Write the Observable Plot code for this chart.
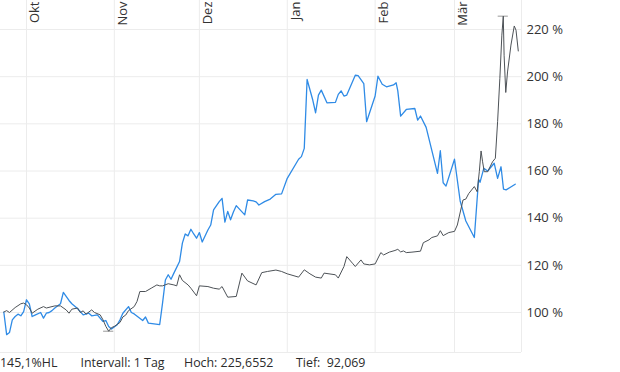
<!DOCTYPE html>
<html>
<head>
<meta charset="utf-8">
<script src="https://cdn.jsdelivr.net/npm/d3@7"></script>
<script src="https://cdn.jsdelivr.net/npm/@observablehq/plot@0.6"></script>
<style>
  html, body { margin: 0; padding: 0; background: #fff; }
  #wrap { width: 620px; position: relative; font-family: "Open Sans", sans-serif; }
  #caption { position: relative; height: 18px; font-size: 12.4px; line-height: 18px; color: #2b2b2b; white-space: pre; }
  #caption span { position: absolute; top: 0; }
</style>
</head>
<body>
<div id="wrap">
  <div id="chart"></div>
  <div id="caption"></div>
</div>
<script>
// Month ticks and labels
const monthTicks = ["2020-10-01", "2020-11-01", "2020-12-01", "2021-01-01", "2021-02-01", "2021-03-01"];
const monthLabels = ["Okt", "Nov", "Dez", "Jan", "Feb", "Mär"];
// Y ticks (percent)
const yTicks = [100, 120, 140, 160, 180, 200, 220];

// Main instrument (dark line)
const blackDates = [
  "2020-09-23","2020-09-24","2020-09-25","2020-09-27","2020-09-29","2020-09-30","2020-10-01","2020-10-02","2020-10-03","2020-10-05",
  "2020-10-07","2020-10-08","2020-10-11","2020-10-13","2020-10-15","2020-10-16","2020-10-17","2020-10-19","2020-10-20","2020-10-21",
  "2020-10-22","2020-10-24","2020-10-25","2020-10-27","2020-10-28","2020-10-29","2020-10-30","2020-10-31","2020-11-01","2020-11-03",
  "2020-11-04","2020-11-05","2020-11-06","2020-11-08","2020-11-09","2020-11-10","2020-11-12","2020-11-14","2020-11-16","2020-11-17",
  "2020-11-18","2020-11-20","2020-11-22","2020-11-23","2020-11-24","2020-11-25","2020-11-27","2020-11-28","2020-11-30","2020-12-01",
  "2020-12-04","2020-12-06","2020-12-08","2020-12-09","2020-12-11","2020-12-14","2020-12-16","2020-12-18","2020-12-21","2020-12-23",
  "2020-12-25","2020-12-28","2020-12-30","2021-01-01","2021-01-05","2021-01-07","2021-01-09","2021-01-11","2021-01-13","2021-01-14",
  "2021-01-18","2021-01-19","2021-01-21","2021-01-22","2021-01-24","2021-01-25","2021-01-27","2021-01-28","2021-01-30","2021-02-01",
  "2021-02-03","2021-02-04","2021-02-06","2021-02-08","2021-02-09","2021-02-10","2021-02-11","2021-02-12","2021-02-14","2021-02-17",
  "2021-02-18","2021-02-20","2021-02-21","2021-02-23","2021-02-24","2021-02-25","2021-02-27","2021-03-01","2021-03-02","2021-03-04",
  "2021-03-05","2021-03-06","2021-03-08","2021-03-09","2021-03-09T18:00Z","2021-03-10T09:00Z","2021-03-10T22:00Z","2021-03-11T12:00Z","2021-03-12T17:00Z","2021-03-14T10:00Z",
  "2021-03-15T10:00Z","2021-03-16T05:00Z","2021-03-17","2021-03-17T17:00Z","2021-03-18T05:00Z","2021-03-18T12:00Z","2021-03-19T02:00Z","2021-03-19T17:00Z","2021-03-20T22:00Z","2021-03-22T02:00Z",
  "2021-03-22T17:00Z","2021-03-23T12:00Z"
];
const blackValues = [
  100.2,100.8,100.0,102.1,103.7,104.0,103.3,101.9,99.7,101.4,
  102.5,101.9,102.8,102.8,101.1,99.7,101.4,101.9,100.0,100.7,
  99.3,101.1,100.0,99.0,96.9,94.1,92.069,93.6,94.1,95.8,
  98.1,98.9,100.8,102.5,104.7,108.9,108.9,110.3,111.7,111.3,
  111.3,112.2,111.7,111.3,116.0,113.6,111.7,110.3,107.1,111.3,
  111.0,110.3,109.9,111.0,106.5,106.8,116.7,113.4,111.7,116.9,
  117.4,118.0,117.4,116.4,115.0,118.1,116.4,115.0,114.6,116.7,
  116.0,114.6,119.5,123.7,120.9,119.5,122.3,120.6,120.2,120.6,
  125.4,124.4,125.6,126.3,126.8,125.7,126.1,125.4,125.6,126.0,
  129.6,130.8,131.8,132.5,134.7,132.6,133.9,134.4,137.1,147.7,
  148.1,150.4,153.4,151.2,159.7,168.5,163.9,159.7,159.7,163.9,
  165.4,180.9,199.3,217.6,225.6552,209.1,193.3,202.0,213.4,221.5,
  219.7,210.9
];

// Comparison (blue line)
const blueDates = [
  "2020-09-23","2020-09-24","2020-09-25","2020-09-26","2020-09-27","2020-09-28","2020-09-29","2020-09-30","2020-10-01","2020-10-02",
  "2020-10-03","2020-10-04","2020-10-06","2020-10-07","2020-10-08","2020-10-09","2020-10-10","2020-10-11","2020-10-13","2020-10-14",
  "2020-10-16","2020-10-17","2020-10-19","2020-10-21","2020-10-23","2020-10-24","2020-10-26","2020-10-28","2020-10-29","2020-10-30",
  "2020-10-31","2020-11-02","2020-11-03","2020-11-04","2020-11-06","2020-11-07","2020-11-08","2020-11-11","2020-11-12","2020-11-13",
  "2020-11-17","2020-11-18","2020-11-19","2020-11-20","2020-11-21","2020-11-22","2020-11-24","2020-11-25","2020-11-26","2020-11-27",
  "2020-11-28","2020-11-29","2020-11-30","2020-12-01","2020-12-02","2020-12-04","2020-12-05","2020-12-06","2020-12-08","2020-12-09",
  "2020-12-10","2020-12-11","2020-12-12","2020-12-13","2020-12-14","2020-12-17","2020-12-18","2020-12-20","2020-12-21","2020-12-22",
  "2020-12-24","2020-12-26","2020-12-28","2020-12-30","2021-01-01","2021-01-05","2021-01-06","2021-01-07","2021-01-08","2021-01-10",
  "2021-01-11","2021-01-12","2021-01-13","2021-01-15","2021-01-18","2021-01-19","2021-01-20","2021-01-21","2021-01-22","2021-01-25",
  "2021-01-26","2021-01-28","2021-01-29","2021-02-01","2021-02-02","2021-02-03T12:00Z","2021-02-05","2021-02-07T12:00Z","2021-02-08T10:00Z","2021-02-09",
  "2021-02-10","2021-02-12","2021-02-15","2021-02-16","2021-02-17","2021-02-19","2021-02-23","2021-02-24","2021-02-25","2021-02-26",
  "2021-03-01","2021-03-03","2021-03-05","2021-03-08","2021-03-09T12:00Z","2021-03-10","2021-03-11T08:00Z","2021-03-12T17:00Z","2021-03-15","2021-03-16T05:00Z",
  "2021-03-17T10:00Z","2021-03-18T07:00Z","2021-03-19T05:00Z","2021-03-22T10:00Z"
];
const blueValues = [
  100.2,90.6,91.5,96.9,98.3,99.3,98.6,100.4,105.4,103.7,
  98.3,98.9,100.0,97.6,99.7,100.0,100.8,101.9,103.7,108.5,
  105.1,103.7,101.7,99.0,99.7,98.6,99.0,96.2,96.6,94.1,
  93.0,94.8,96.9,99.7,102.5,100.0,99.4,96.6,98.1,95.5,
  94.9,104.0,113.8,116.0,114.1,116.7,121.6,129.4,133.3,132.5,
  135.3,133.3,131.5,133.9,129.9,135.0,137.1,143.5,147.0,148.4,
  138.3,142.9,139.3,142.6,145.3,141.4,147.7,147.3,146.9,145.6,
  147.0,148.1,150.1,150.3,156.9,165.0,166.1,169.6,198.8,190.1,
  184.7,192.2,194.3,188.9,189.1,192.5,194.0,191.8,192.2,200.6,
  200.4,197.1,180.9,191.8,200.2,196.8,195.7,196.5,197.4,194.0,
  183.3,186.1,186.5,181.6,183.3,178.5,159.0,168.6,155.0,153.6,
  165.0,147.3,138.8,131.8,156.5,155.2,161.1,160.0,163.3,156.9,
  161.8,152.3,152.0,154.4
];

const black = blackDates.map((d, i) => ({date: new Date(d), value: blackValues[i]}));
const blue = blueDates.map((d, i) => ({date: new Date(d), value: blueValues[i]}));
const months = monthTicks.map((d, i) => ({date: new Date(d), label: monthLabels[i]}));

const xDomain = [new Date("2020-09-21T20:00Z"), new Date("2021-03-24T15:20Z")];
const yDomain = [83.04, 232.3];

const hiPt = black.reduce((a, b) => (b.value > a.value ? b : a));
const loPt = black.reduce((a, b) => (b.value < a.value ? b : a));
const DAY = 86400000;
const markerHalf = 1.8 * DAY;
const markers = [hiPt, loPt].map(p => ({
  value: p.value,
  x1: new Date(+p.date - markerHalf),
  x2: new Date(+p.date + markerHalf)
}));

const grid = "#ececec";

const chart = Plot.plot({
  width: 620,
  height: 354,
  marginTop: 0,
  marginLeft: 0,
  marginRight: 99,
  marginBottom: 2,
  style: {fontFamily: "'Open Sans', sans-serif", fontSize: "13px", color: "#333", background: "#fff", overflow: "visible"},
  x: {type: "utc", domain: xDomain, axis: null},
  y: {domain: yDomain, axis: null},
  marks: [
    Plot.ruleY(yTicks, {stroke: grid}),
    Plot.ruleX(months, {x: "date", stroke: grid}),
    Plot.ruleX([xDomain[1]], {stroke: grid}),
    Plot.ruleY([yDomain[0]], {stroke: grid}),
    Plot.text(months, {
      x: "date", text: "label", frameAnchor: "top", rotate: -90,
      textAnchor: "end", lineAnchor: "bottom", dx: 12.5, dy: 1,
      fill: "#333", fontSize: 13
    }),
    Plot.axisY({
      anchor: "right", ticks: yTicks, tickSize: 0, tickPadding: 5,
      tickFormat: d => `${d} %`, fontSize: 13, fill: "#333", label: null
    }),
    Plot.ruleY(markers, {y: "value", x1: "x1", x2: "x2", stroke: "#9a9a9a", strokeWidth: 1}),
    Plot.line(blue, {x: "date", y: "value", stroke: "#2f8be6", strokeWidth: 1.3}),
    Plot.line(black, {x: "date", y: "value", stroke: "#4d5257", strokeWidth: 1})
  ]
});
document.getElementById("chart").appendChild(chart);

// Caption with statistics derived from the data
const fmt = (v, digits) => v.toFixed(digits).replace(".", ",");
const hl = (hiPt.value / loPt.value - 1) * 100;
const captionItems = [
  {text: `${fmt(hl, 1)}%HL`, left: 0},
  {text: "Intervall: 1 Tag", left: 80.5},
  {text: `Hoch: ${fmt(hiPt.value, 4)}`, left: 184},
  {text: `Tief:  ${fmt(loPt.value, 3)}`, left: 296}
];
const cap = document.getElementById("caption");
captionItems.forEach(c => {
  const s = document.createElement("span");
  s.textContent = c.text;
  s.style.left = c.left + "px";
  cap.appendChild(s);
});
</script>
</body>
</html>
